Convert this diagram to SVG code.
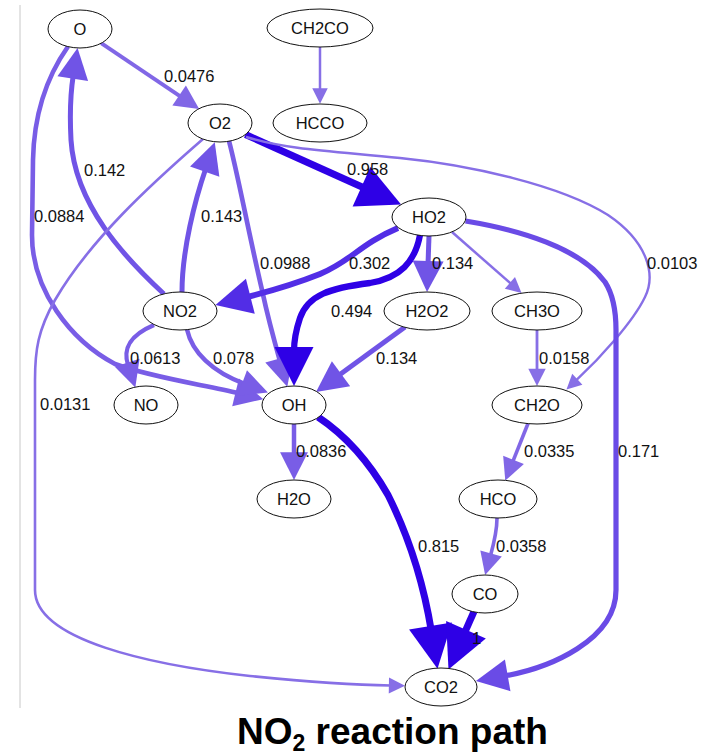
<svg xmlns="http://www.w3.org/2000/svg" width="710" height="755" viewBox="0 0 710 755">
<style>
.node ellipse{fill:#fff;stroke:#111;stroke-width:1}
.node text{font-family:"Liberation Sans",Arial,sans-serif;font-size:16.5px;fill:#111;text-anchor:middle}
.edges path{fill:none;stroke-linecap:butt}
.lbl{font-family:"Liberation Sans",Arial,sans-serif;font-size:16.5px;fill:#111}
.e1{stroke:#2e00e6;marker-end:url(#m1)}
.e2{stroke:#522de6;marker-end:url(#m2)}
.e3{stroke:#6a4be6;marker-end:url(#m3)}
.e4{stroke:#7054e6;marker-end:url(#m4)}
.e5{stroke:#795de6;marker-end:url(#m5)}
.e6{stroke:#8167e6;marker-end:url(#m6)}
.e7{stroke:#876fe6;marker-end:url(#m7)}
.title{font-family:"Liberation Sans",Arial,sans-serif;font-weight:bold;font-size:37px;fill:#000}
</style>
<defs>
<marker id="m1" markerUnits="strokeWidth" markerWidth="7" markerHeight="7" viewBox="-1 -3.5 7 7" refX="0" refY="0" orient="auto" overflow="visible"><path d="M-0.7,-3.1 L5.5,0 L-0.7,3.1 z" fill="#2e00e6"/></marker>
<marker id="m2" markerUnits="strokeWidth" markerWidth="7" markerHeight="7" viewBox="-1 -3.5 7 7" refX="0" refY="0" orient="auto" overflow="visible"><path d="M-0.7,-3.1 L5.5,0 L-0.7,3.1 z" fill="#522de6"/></marker>
<marker id="m3" markerUnits="strokeWidth" markerWidth="7" markerHeight="7" viewBox="-1 -3.5 7 7" refX="0" refY="0" orient="auto" overflow="visible"><path d="M-0.7,-3.1 L5.5,0 L-0.7,3.1 z" fill="#6a4be6"/></marker>
<marker id="m4" markerUnits="strokeWidth" markerWidth="7" markerHeight="7" viewBox="-1 -3.5 7 7" refX="0" refY="0" orient="auto" overflow="visible"><path d="M-0.7,-3.1 L5.5,0 L-0.7,3.1 z" fill="#7054e6"/></marker>
<marker id="m5" markerUnits="strokeWidth" markerWidth="7" markerHeight="7" viewBox="-1 -3.5 7 7" refX="0" refY="0" orient="auto" overflow="visible"><path d="M-0.7,-3.1 L5.5,0 L-0.7,3.1 z" fill="#795de6"/></marker>
<marker id="m6" markerUnits="strokeWidth" markerWidth="7" markerHeight="7" viewBox="-1 -3.5 7 7" refX="0" refY="0" orient="auto" overflow="visible"><path d="M-0.7,-3.1 L5.5,0 L-0.7,3.1 z" fill="#8167e6"/></marker>
<marker id="m7" markerUnits="strokeWidth" markerWidth="7" markerHeight="7" viewBox="-1 -3.5 7 7" refX="0" refY="0" orient="auto" overflow="visible"><path d="M-0.7,-3.1 L5.5,0 L-0.7,3.1 z" fill="#876fe6"/></marker>
</defs>
<rect width="710" height="755" fill="#fff"/>
<line x1="20" y1="5" x2="20" y2="708" stroke="#c8c8c8" stroke-width="1"/>
<g id="connectors" class="edges">
<path id="e-O-O2" class="e6" stroke-width="3.9" d="M101.2,43.2 L181.4,97.1"/>
<path id="e-CH2CO-HCCO" class="e7" stroke-width="2.5" d="M320,47 L320,90"/>
<path id="e-NO2-O" class="e4" stroke-width="5" d="M164,294 C125,258 75,205 71,140 C69.5,112 70.5,93 73.3,75.1"/>
<path id="e-O-OH" class="e5" stroke-width="4.6" d="M68,46.5 C48,75 34,110 33,160 L32,235 C32,290 70,340 115,364 C150,377 205,385 238.7,393.2"/>
<path id="e-O2-HO2" class="e1" stroke-width="7" d="M245.5,134.5 L366,188.7"/>
<path id="e-O2-CH2O" class="e7" stroke-width="2.4" d="M246,137 C290,150 330,151 400,158 C470,165 560,185 608,215 C648,242 656,275 645,297 C633,322 600,358 576.1,380.4"/>
<path id="e-O2-CO2" class="e7" stroke-width="2.6" d="M203,139 C150,185 90,240 55,300 C38,330 35,350 35,380 L35,590 C35,640 150,665 250,676 C310,682 360,685 390.7,685.5"/>
<path id="e-O2-OH" class="e5" stroke-width="4.7" d="M229,141 C238,175 248,230 262,290 C268,318 274,340 280.2,361.8"/>
<path id="e-NO2-O2" class="e4" stroke-width="5" d="M182,292 C182,250 195,200 205.85,168.3"/>
<path id="e-HO2-NO2" class="e2" stroke-width="5.8" d="M398,228 C360,244 350,262 320,274 C300,282 275,290 246.4,297.2"/>
<path id="e-HO2-OH" class="e1" stroke-width="6.3" d="M420,235 C415,262 400,278 370,283 C330,288 308,295 300,318 C296,330 294,340 294,351.3"/>
<path id="e-HO2-H2O2" class="e4" stroke-width="5" d="M429,236 L428,264.5"/>
<path id="e-HO2-CH3O" class="e7" stroke-width="2.5" d="M452,232 L511.2,284"/>
<path id="e-HO2-CO2" class="e3" stroke-width="5.2" d="M465.5,221 C520,230 580,248 605,282 C614,296 616,312 616,330 L616,590 C616,640 550,668 504.1,676"/>
<path id="e-H2O2-OH" class="e4" stroke-width="5" d="M405,327 L338.2,375.8"/>
<path id="e-NO2-NO" class="e5" stroke-width="4.2" d="M154,325 C128,336 123,350 128.1,365.5"/>
<path id="e-NO2-OH" class="e5" stroke-width="4.4" d="M187,329.5 C192,352 212,372 245.2,384.1"/>
<path id="e-CH3O-CH2O" class="e7" stroke-width="2.8" d="M537,330 L537,370.6"/>
<path id="e-OH-H2O" class="e5" stroke-width="4.5" d="M294,424 L294,455.3"/>
<path id="e-OH-CO2" class="e1" stroke-width="7" d="M318,417 C345,435 368,460 388,495 C408,535 423,580 431.3,630.8"/>
<path id="e-CH2O-HCO" class="e6" stroke-width="3.6" d="M528,423.5 L512.6,462.2"/>
<path id="e-HCO-CO" class="e6" stroke-width="3.6" d="M497,518 C497,530 494,543 490.4,556"/>
<path id="e-CO-CO2" class="e1" stroke-width="7" d="M474,611.5 L464,634.2"/>
</g>
<g id="edge-labels" class="lbl">
<text x="164" y="82">0.0476</text>
<text x="84" y="176">0.142</text>
<text x="34" y="222">0.0884</text>
<text x="201" y="222">0.143</text>
<text x="347" y="175">0.958</text>
<text x="260" y="269">0.0988</text>
<text x="349" y="269">0.302</text>
<text x="432" y="269">0.134</text>
<text x="647" y="269">0.0103</text>
<text x="331" y="317">0.494</text>
<text x="130" y="364">0.0613</text>
<text x="213" y="364">0.078</text>
<text x="376" y="364">0.134</text>
<text x="539" y="364">0.0158</text>
<text x="40" y="410">0.0131</text>
<text x="296" y="457">0.0836</text>
<text x="524" y="457">0.0335</text>
<text x="618" y="457">0.171</text>
<text x="418" y="552">0.815</text>
<text x="496" y="552">0.0358</text>
<text x="472" y="644">1</text>
</g>
<g id="n-O" class="node"><ellipse cx="80" cy="29" rx="32" ry="19"/><text x="80" y="35">O</text></g>
<g id="n-CH2CO" class="node"><ellipse cx="320" cy="28" rx="53" ry="19"/><text x="320" y="34">CH2CO</text></g>
<g id="n-O2" class="node"><ellipse cx="220" cy="123" rx="32" ry="19"/><text x="220" y="129">O2</text></g>
<g id="n-HCCO" class="node"><ellipse cx="320" cy="123" rx="47" ry="19"/><text x="320" y="129">HCCO</text></g>
<g id="n-HO2" class="node"><ellipse cx="429" cy="217" rx="37" ry="19"/><text x="429" y="223">HO2</text></g>
<g id="n-NO2" class="node"><ellipse cx="180" cy="311" rx="37" ry="19"/><text x="180" y="317">NO2</text></g>
<g id="n-H2O2" class="node"><ellipse cx="427" cy="311" rx="43" ry="19"/><text x="427" y="317">H2O2</text></g>
<g id="n-CH3O" class="node"><ellipse cx="537" cy="311" rx="45" ry="19"/><text x="537" y="317">CH3O</text></g>
<g id="n-NO" class="node"><ellipse cx="146" cy="405" rx="32" ry="19"/><text x="146" y="411">NO</text></g>
<g id="n-OH" class="node"><ellipse cx="294" cy="405" rx="32" ry="19"/><text x="294" y="411">OH</text></g>
<g id="n-CH2O" class="node"><ellipse cx="537" cy="405" rx="45" ry="19"/><text x="537" y="411">CH2O</text></g>
<g id="n-H2O" class="node"><ellipse cx="294" cy="499" rx="37" ry="19"/><text x="294" y="505">H2O</text></g>
<g id="n-HCO" class="node"><ellipse cx="498" cy="499" rx="39" ry="19"/><text x="498" y="505">HCO</text></g>
<g id="n-CO" class="node"><ellipse cx="485" cy="594" rx="33" ry="19"/><text x="485" y="600">CO</text></g>
<g id="n-CO2" class="node"><ellipse cx="441" cy="687" rx="36" ry="19"/><text x="441" y="693">CO2</text></g>
<text class="title" x="237" y="744">NO<tspan font-size="23" dy="7">2</tspan><tspan dy="-7"> reaction path</tspan></text>
</svg>
